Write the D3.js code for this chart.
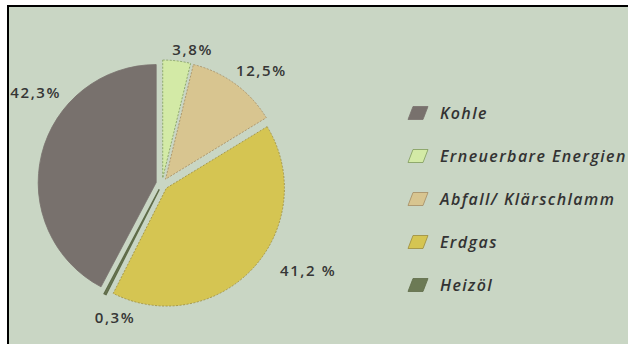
<!DOCTYPE html>
<html>
<head>
<meta charset="utf-8">
<script src="https://cdn.jsdelivr.net/npm/d3@7"></script>
<style>
  html, body { margin: 0; padding: 0; background: #ffffff; }
  svg { display: block; }
</style>
</head>
<body>
<svg id="chart" width="628" height="344"></svg>
<script>
// Energy sources, shares in percent (clockwise from 12 o'clock)
const categories = ["Erneuerbare Energien", "Abfall/ Klärschlamm", "Erdgas", "Heizöl", "Kohle"];
const shares = [3.8, 12.5, 41.2, 0.3, 42.3];
const shareLabels = ["3,8%", "12,5%", "41,2 %", "0,3%", "42,3%"];
const colors = ["#d3eaa6", "#d8c590", "#d5c552", "#6c7a55", "#78716d"];
const strokes = ["#7f9a5a", "#a48c62", "#9c8c3c", "#5f6c49", "#78716d"];

// Legend order
const legendOrder = ["Kohle", "Erneuerbare Energien", "Abfall/ Klärschlamm", "Erdgas", "Heizöl"];

const W = 628, H = 344;
const svg = d3.select("#chart");

// Panel background with black frame on the top and left edge
svg.append("rect")
  .attr("x", 8).attr("y", 6)
  .attr("width", W + 20).attr("height", H + 20)
  .attr("fill", "#c9d6c4")
  .attr("stroke", "#000").attr("stroke-width", 2);

const cx = 162, cy = 184, R = 118, explode = 6;

const pie = d3.pie().sort(null).value(d => d.value);
const arcs = pie(categories.map((c, i) => ({ name: c, value: shares[i], i })));
const arc = d3.arc().innerRadius(0).outerRadius(R);

const g = svg.append("g").attr("transform", `translate(${cx},${cy})`);

g.selectAll("path.slice")
  .data(arcs)
  .join("path")
  .attr("class", "slice")
  .attr("transform", d => {
    const [x, y] = d3.pointRadial((d.startAngle + d.endAngle) / 2, explode);
    return `translate(${x},${y})`;
  })
  .attr("d", arc)
  .attr("fill", d => colors[d.data.i])
  .attr("stroke", d => strokes[d.data.i])
  .attr("stroke-width", d => d.data.name === "Heizöl" ? 1.4 : 0.8)
  .attr("stroke-dasharray", d => (d.data.name === "Kohle" || d.data.name === "Heizöl") ? null : "2,1.5");

// Value labels: angle shift (deg) from slice centre and radial distance
const labelPlacement = [[6, 138], [5, 151], [-12, 170], [-8, 142], [22, 156]];
const rad = Math.PI / 180;

g.selectAll("text.val")
  .data(arcs)
  .join("text")
  .attr("class", "val")
  .each(function (d) {
    const [shift, r] = labelPlacement[d.data.i];
    const [x, y] = d3.pointRadial((d.startAngle + d.endAngle) / 2 + shift * rad, r);
    d3.select(this).attr("x", x).attr("y", y);
  })
  .attr("text-anchor", "middle")
  .attr("dy", "0.36em")
  .attr("font-family", "'Open Sans', sans-serif")
  .attr("font-weight", 600)
  .attr("font-size", 15)
  .attr("letter-spacing", "1.6px")
  .attr("fill", "#363636")
  .text(d => shareLabels[d.data.i]);

// Legend
const ly = d3.scaleLinear().domain([0, legendOrder.length - 1]).range([113, 285]);
const legend = svg.append("g");
const rows = legend.selectAll("g.row")
  .data(legendOrder)
  .join("g")
  .attr("class", "row")
  .attr("transform", (d, i) => `translate(408,${ly(i)})`);

rows.append("path")
  .attr("d", "M0,6.5 L5,-6.5 L20,-6.5 L15,6.5 Z")
  .attr("fill", d => colors[categories.indexOf(d)])
  .attr("stroke", d => strokes[categories.indexOf(d)])
  .attr("stroke-width", 0.8);

rows.append("text")
  .attr("x", 32)
  .attr("dy", "0.36em")
  .attr("font-family", "'Open Sans', sans-serif")
  .attr("font-style", "italic")
  .attr("font-weight", 600)
  .attr("font-size", 16)
  .attr("letter-spacing", "1.4px")
  .attr("fill", "#333333")
  .text(d => d);
</script>
</body>
</html>
